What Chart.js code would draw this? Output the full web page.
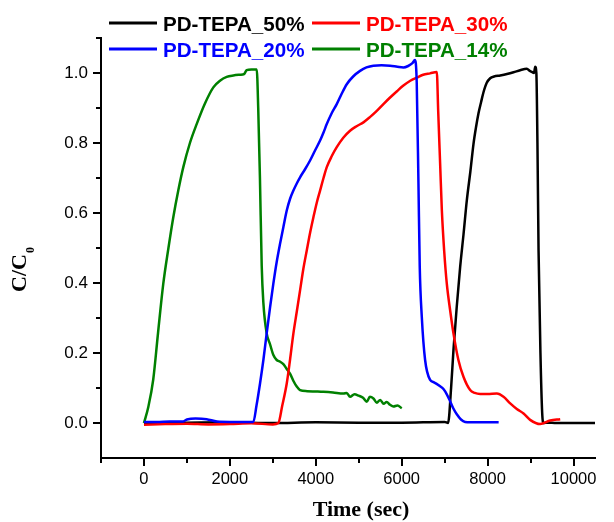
<!DOCTYPE html>
<html lang="en">
<head>
  <meta charset="UTF-8" />
  <title>Breakthrough curves</title>
  <style>
    body { margin: 0; background: #ffffff; }
  </style>
</head>
<body>
  <canvas id="breakthroughChart" width="614" height="522"></canvas>

  <script src="https://cdn.jsdelivr.net/npm/chart.js"></script>
  <script>
    // series names and colours (legend order)
    const seriesNames = ['PD-TEPA_50%', 'PD-TEPA_30%', 'PD-TEPA_20%', 'PD-TEPA_14%'];
    const seriesColors = ['#000000', '#ff0000', '#0000ff', '#008000'];

    // PD-TEPA_50%
    const time50 = [0, 1000, 2000, 3000, 4000, 5000, 6000, 7000, 7080, 7150, 7205, 7280, 7361, 7440, 7516, 7600,
      7671, 7730, 7788, 7850, 7904, 7980, 8060, 8150, 8293, 8450, 8603, 8758, 8913, 8980, 9031, 9080, 9108, 9135,
      9160, 9186, 9230, 9270, 9300, 9400, 9600, 10000, 10500];
    const c50 = [0.0, 0.001, 0.002, 0.0, 0.002, 0.001, 0.001, 0.003, 0.0, 0.1, 0.208, 0.33, 0.446, 0.54, 0.636, 0.72,
      0.797, 0.845, 0.885, 0.918, 0.945, 0.972, 0.985, 0.99, 0.993, 0.997, 1.002, 1.008, 1.012, 1.006, 1.003, 1.0, 1.018, 1.0,
      0.8, 0.493, 0.2, 0.03, 0.0, 0.001, 0.0, 0.0, 0.0];

    // PD-TEPA_30%
    const time30 = [0, 500, 1000, 1500, 2000, 2500, 3000, 3129, 3220, 3324, 3400, 3479, 3560, 3634, 3710, 3790, 3870,
      3945, 4020, 4100, 4180, 4256, 4370, 4488, 4640, 4798, 4950, 5109, 5260, 5420, 5580, 5730, 5890, 6040, 6200,
      6352, 6500, 6662, 6817, 6850, 6895, 6935, 6990, 7050, 7130, 7205, 7320, 7438, 7594, 7700, 7827, 8000, 8215,
      8370, 8526, 8680, 8837, 8990, 9224, 9457, 9690];
    const c30 = [-0.005, -0.003, -0.002, -0.004, -0.003, -0.001, -0.004, 0.0, 0.05, 0.113, 0.18, 0.256, 0.32, 0.379,
      0.44, 0.493, 0.545, 0.588, 0.628, 0.664, 0.70, 0.731, 0.762, 0.788, 0.815, 0.835, 0.848, 0.859, 0.874, 0.892,
      0.912, 0.930, 0.948, 0.964, 0.978, 0.987, 0.995, 0.999, 1.003, 0.89, 0.74, 0.607, 0.49, 0.398, 0.32, 0.256,
      0.18, 0.132, 0.094, 0.086, 0.083, 0.083, 0.084, 0.075, 0.056, 0.04, 0.027, 0.009, -0.003, 0.007, 0.011];

    // PD-TEPA_20%
    const time20 = [0, 300, 600, 900, 1000, 1200, 1460, 1700, 2000, 2300, 2546, 2620, 2702, 2780, 2857, 2935, 3012,
      3090, 3168, 3246, 3324, 3400, 3479, 3560, 3634, 3750, 3867, 3980, 4100, 4180, 4256, 4370, 4488, 4600, 4721,
      4870, 5031, 5180, 5342, 5530, 5730, 5900, 6040, 6150, 6250, 6308, 6350, 6390, 6420, 6468, 6545, 6662, 6740,
      6895, 6972, 7050, 7128, 7200, 7283, 7380, 7477, 7600, 8000, 8257];
    const c20 = [0.003, 0.003, 0.004, 0.004, 0.01, 0.013, 0.011, 0.004, 0.003, 0.003, 0.003, 0.05, 0.113, 0.18, 0.256,
      0.33, 0.398, 0.46, 0.512, 0.56, 0.607, 0.64, 0.664, 0.685, 0.702, 0.725, 0.75, 0.778, 0.807, 0.83, 0.854, 0.885,
      0.911, 0.94, 0.968, 0.99, 1.006, 1.016, 1.021, 1.022, 1.021, 1.018, 1.016, 1.02, 1.028, 1.037, 0.972, 0.686,
      0.447, 0.303, 0.18, 0.123, 0.117, 0.105, 0.097, 0.082, 0.062, 0.042, 0.025, 0.01, 0.003, 0.002, 0.002, 0.002];

    // PD-TEPA_14%
    const time14 = [0, 100, 217, 330, 450, 570, 683, 800, 916, 1070, 1227, 1420, 1615, 1770, 1926, 2080, 2236, 2330,
      2392, 2500, 2625, 2660, 2700, 2741, 2780, 2857, 2935, 3010, 3090, 3170, 3245, 3320, 3400, 3480, 3557, 3634,
      3800, 4000, 4177, 4400, 4643, 4720, 4798, 4900, 5000, 5100, 5187, 5260, 5342, 5420, 5500, 5580, 5650, 5730,
      5807, 5900, 6002];
    const c14 = [0.0, 0.045, 0.125, 0.26, 0.398, 0.50, 0.588, 0.665, 0.731, 0.80, 0.854, 0.913, 0.959, 0.978, 0.989,
      0.993, 0.995, 0.997, 1.008, 1.010, 1.010, 0.90, 0.70, 0.45, 0.343, 0.256, 0.225, 0.195, 0.18, 0.175, 0.168,
      0.155, 0.141, 0.12, 0.104, 0.094, 0.091, 0.09, 0.089, 0.087, 0.084, 0.086, 0.075, 0.082, 0.078, 0.072, 0.061,
      0.075, 0.07, 0.058, 0.066, 0.055, 0.06, 0.052, 0.047, 0.05, 0.042];

    // axis ticks
    const xTicks = [0, 2000, 4000, 6000, 8000, 10000];
    const xTickLabels = ['0', '2000', '4000', '6000', '8000', '10000'];
    const xMinorTicks = [-1000, 1000, 3000, 5000, 7000, 9000];
    const yTicks = [0, 0.2, 0.4, 0.6, 0.8, 1.0];
    const yTickLabels = ['0.0', '0.2', '0.4', '0.6', '0.8', '1.0'];
    const yMinorTicks = [0.1, 0.3, 0.5, 0.7, 0.9, 1.1];

    const toPoints = (xs, ys) => xs.map((x, i) => ({ x: x, y: ys[i] }));
    const seriesData = [toPoints(time50, c50), toPoints(time30, c30), toPoints(time20, c20), toPoints(time14, c14)];
    const drawOrder = [4, 2, 1, 3];

    // minor ticks, legend and axis titles
    const decorations = {
      id: 'decorations',
      afterDraw(chart) {
        const ctx = chart.ctx;
        const xs = chart.scales.x;
        const ys = chart.scales.y;
        const area = chart.chartArea;
        ctx.save();

        ctx.strokeStyle = '#000';
        ctx.lineWidth = 2;
        ctx.beginPath();
        xMinorTicks.forEach(v => {
          const px = Math.round(xs.getPixelForValue(v));
          ctx.moveTo(px, area.bottom);
          ctx.lineTo(px, area.bottom + 5);
        });
        yMinorTicks.forEach(v => {
          const py = Math.round(ys.getPixelForValue(v));
          ctx.moveTo(area.left, py);
          ctx.lineTo(area.left - 5, py);
        });
        ctx.stroke();

        // legend, 2 x 2
        const cols = [{ line: 109, text: 163 }, { line: 312, text: 366 }];
        const rows = [23, 49];
        ctx.font = 'bold 20.6px "Liberation Sans"';
        ctx.textAlign = 'left';
        ctx.textBaseline = 'alphabetic';
        seriesNames.forEach((name, i) => {
          const c = cols[i % 2];
          const y = rows[Math.floor(i / 2)];
          ctx.strokeStyle = seriesColors[i];
          ctx.lineWidth = 3;
          ctx.beginPath();
          ctx.moveTo(c.line, y);
          ctx.lineTo(c.line + 48, y);
          ctx.stroke();
          ctx.fillStyle = seriesColors[i];
          ctx.fillText(name, c.text, y + 7.5);
        });

        // axis titles
        ctx.fillStyle = '#000';
        ctx.font = 'bold 22px "Liberation Serif"';
        ctx.textAlign = 'center';
        ctx.fillText('Time (sec)', 361, 516);

        ctx.translate(26, 292);
        ctx.rotate(-Math.PI / 2);
        ctx.textAlign = 'left';
        ctx.fillText('C/C', 0, 0);
        const w = ctx.measureText('C/C').width;
        ctx.font = 'bold 12px "Liberation Serif"';
        ctx.fillText('0', w + 1, 8);
        ctx.restore();
      }
    };

    new Chart(document.getElementById('breakthroughChart'), {
      type: 'line',
      data: {
        datasets: seriesNames.map((name, i) => ({
          label: name,
          data: seriesData[i],
          borderColor: seriesColors[i],
          borderWidth: 2.5,
          pointRadius: 0,
          fill: false,
          cubicInterpolationMode: 'monotone',
          order: drawOrder[i],
        })),
      },
      options: {
        responsive: false,
        animation: false,
        devicePixelRatio: 1,
        layout: { padding: { top: 38, right: 19, left: 0, bottom: 0 } },
        plugins: {
          legend: { display: false },
          tooltip: { enabled: false },
        },
        scales: {
          x: {
            type: 'linear',
            min: -1000,
            max: 10500,
            afterBuildTicks: s => { s.ticks = xTicks.map(v => ({ value: v })); },
            afterFit: s => { s.height = 64; },
            ticks: {
              color: '#000',
              padding: 4,
              maxRotation: 0,
              font: { family: 'Liberation Sans', size: 16.5 },
              callback: (v, i) => xTickLabels[i],
            },
            grid: { drawOnChartArea: false, drawTicks: true, tickLength: 8, color: '#000', lineWidth: 2 },
            border: { display: true, color: '#000', width: 2 },
          },
          y: {
            min: -0.1,
            max: 1.1,
            afterBuildTicks: s => { s.ticks = yTicks.map(v => ({ value: v })); },
            afterFit: s => { s.width = 101; },
            ticks: {
              color: '#000',
              padding: 5,
              font: { family: 'Liberation Sans', size: 17 },
              callback: (v, i) => yTickLabels[i],
            },
            grid: { drawOnChartArea: false, drawTicks: true, tickLength: 8, color: '#000', lineWidth: 2 },
            border: { display: true, color: '#000', width: 2 },
          },
        },
      },
      plugins: [decorations],
    });
  </script>
</body>
</html>
